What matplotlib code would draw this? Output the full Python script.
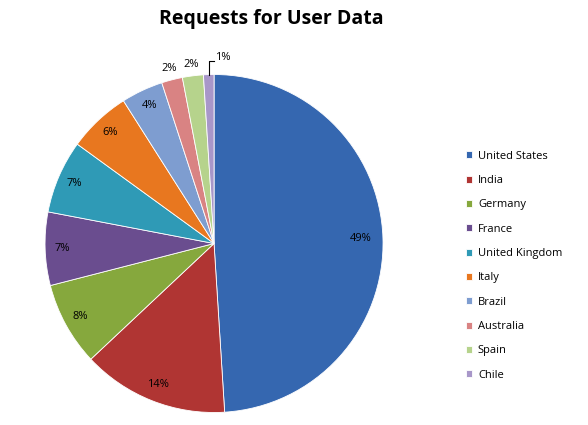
import matplotlib
matplotlib.use("Agg")
import matplotlib.pyplot as plt
import numpy as np

countries = ["United States", "India", "Germany", "France", "United Kingdom",
             "Italy", "Brazil", "Australia", "Spain", "Chile"]
shares = [49, 14, 8, 7, 7, 6, 4, 2, 2, 1]
colors = ["#3567b0", "#b03533", "#86a83d", "#6a4d8f", "#2f9ab6",
          "#e8771f", "#7e9dd0", "#d98383", "#b6d38c", "#a897c9"]

plt.rcParams['font.family'] = ['Open Sans', 'DejaVu Sans']

fig = plt.figure(figsize=(5.88, 4.25), dpi=100)
ax = fig.add_axes([0.364 - 0.2875, 0.427 - 0.3976, 0.575, 0.7953])

wedges, _ = ax.pie(shares, colors=colors, startangle=90, counterclock=False,
                   wedgeprops=dict(linewidth=0.6, edgecolor="white"))
ax.set_aspect('equal')
ax.set_xlim(-1, 1)
ax.set_ylim(-1, 1)

total = sum(shares)
for i, w in enumerate(wedges):
    ang = np.deg2rad((w.theta1 + w.theta2) / 2)
    pct = shares[i] / total * 100
    if pct >= 3:
        r = 0.87 if pct > 40 else 0.9
        ax.text(r * np.cos(ang), r * np.sin(ang), f"{pct:.0f}%", ha='center',
                va='center', fontsize=8)
    elif pct >= 1.5:
        r = 1.07
        ax.text(r * np.cos(ang), r * np.sin(ang), f"{pct:.0f}%", ha='center',
                va='center', fontsize=8)
    else:
        x0, y0 = np.cos(ang), np.sin(ang)
        ax.plot([x0, x0, x0 + 0.03], [y0, y0 + 0.08, y0 + 0.08], color='black',
                lw=0.8, clip_on=False)
        ax.text(x0 + 0.04, y0 + 0.1, f"{pct:.0f}%", ha='left', va='center',
                fontsize=8)

fig.text(0.461, 0.955, "Requests for User Data", ha='center', va='center',
         fontsize=14, fontweight='bold')

fig.legend(wedges, countries, loc='center left', bbox_to_anchor=(0.775, 0.375),
           frameon=False, fontsize=8, handlelength=0.6, handleheight=0.6,
           labelspacing=1.2, handletextpad=0.5)

fig.savefig("out.png", dpi=100)
